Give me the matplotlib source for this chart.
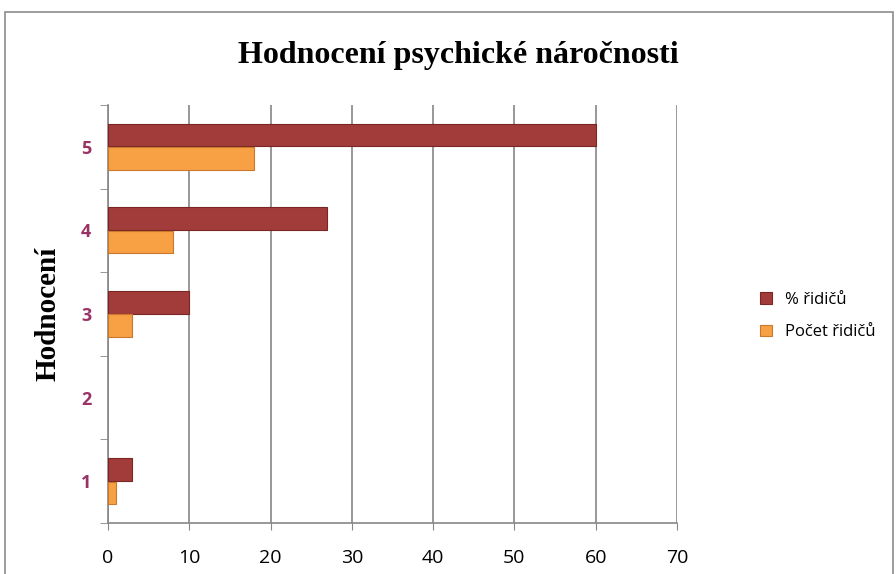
import matplotlib
matplotlib.use('Agg')
import matplotlib.pyplot as plt
from matplotlib.patches import Rectangle
import numpy as np

categories = ['1', '2', '3', '4', '5']
pct_ridicu = [3, 0, 10, 27, 60]
pocet_ridicu = [1, 0, 3, 8, 18]
xticks = [0, 10, 20, 30, 40, 50, 60, 70]

fig = plt.figure(figsize=(8.96, 5.74), dpi=100)
ax = fig.add_axes([108/896, 1 - 523/574, (677 - 108)/896, (523 - 105)/574])

# outer chart border
fig.patches.append(Rectangle((5/896, -0.1), 888/896, 1.1 - 12/574, transform=fig.transFigure,
                             fill=False, edgecolor='#8c8c8c', linewidth=1.2))

pos = np.arange(1, len(categories) + 1)
h = 0.27
lw1 = [0.8 if v else 0 for v in pct_ridicu]
lw2 = [0.8 if v else 0 for v in pocet_ridicu]
ax.barh(pos + h/2 + 0.005, pct_ridicu, height=h, color='#a23c3a', edgecolor='#7a2624',
        linewidth=lw1, label='% řidičů', zorder=3)
ax.barh(pos - h/2 - 0.005, pocet_ridicu, height=h, color='#f7a044', edgecolor='#c9782c',
        linewidth=lw2, label='Počet řidičů', zorder=3)

ax.set_xlim(0, 70)
ax.set_ylim(0.5, len(categories) + 0.5)
ax.set_xticks(xticks)
ax.set_xticklabels([str(t) for t in xticks], fontsize=14, family='Open Sans')
ax.tick_params(axis='x', length=5, color='#868686', pad=14)
ax.set_yticks(pos)
ax.set_yticklabels(categories, fontsize=13, fontweight='bold', color='#993366', family='Open Sans')
ax.set_yticks(np.arange(0.5, len(categories) + 1), minor=True)
ax.tick_params(axis='y', which='major', length=0, pad=12)
ax.tick_params(axis='y', which='minor', length=6, color='#868686')

ax.grid(axis='x', color='#868686', linewidth=1.2, zorder=0)
for s in ['top', 'right']:
    ax.spines[s].set_visible(False)
for s in ['left', 'bottom']:
    ax.spines[s].set_color('#868686')
    ax.spines[s].set_linewidth(1.2)

ax.set_ylabel('Hodnocení', fontsize=21, fontweight='bold', family='Liberation Serif', labelpad=14)
fig.text(0.512, 1 - 55/574, 'Hodnocení psychické náročnosti', ha='center', va='center',
         fontsize=23, fontweight='bold', family='Liberation Serif')

ax.legend(loc='center left', bbox_to_anchor=(1.12, 0.495), frameon=False,
          handlelength=0.7, handleheight=0.7, labelspacing=1.0, prop={'family': 'Open Sans', 'size': 12})

fig.savefig('out.png', dpi=100)
